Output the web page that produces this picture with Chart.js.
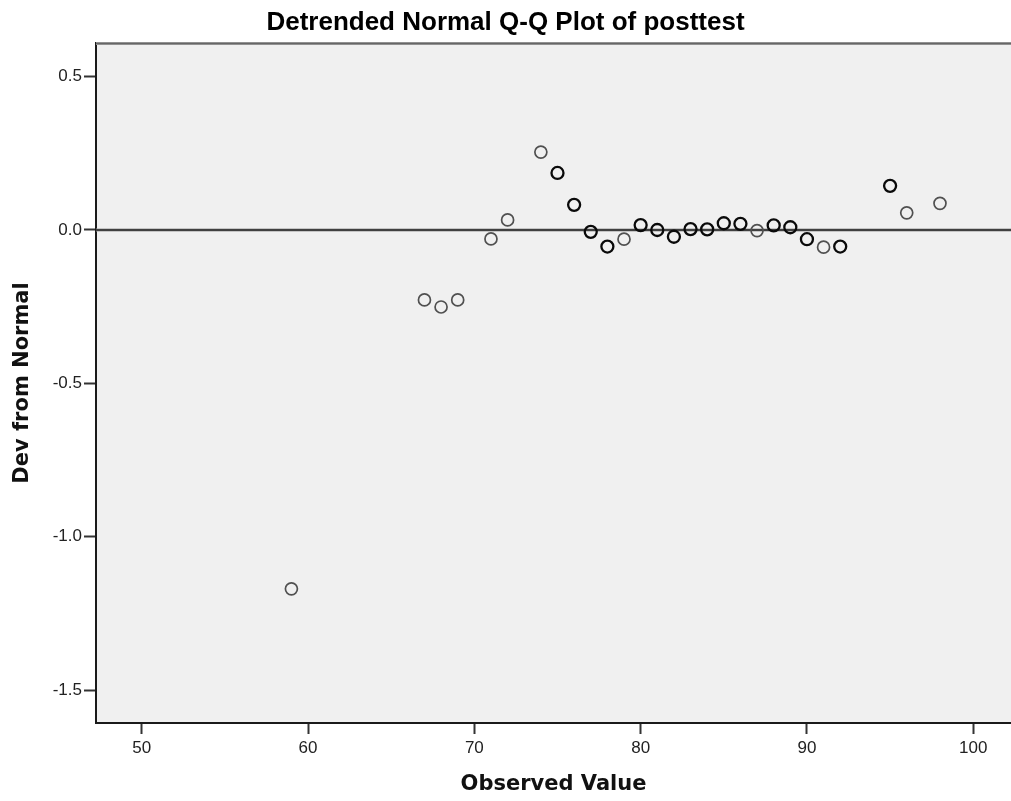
<!DOCTYPE html>
<html>
<head>
<meta charset="utf-8">
<script src="https://cdn.jsdelivr.net/npm/chart.js@4.4.1/dist/chart.umd.min.js"></script>
<style>
html,body{margin:0;padding:0;background:#fff;overflow:hidden}
canvas{display:block}
</style>
</head>
<body>
<canvas id="c" width="1011" height="801" style="width:1011px;height:801px"></canvas>
<script>
// ---- data ----
const observedValues = [59, 67, 68, 69, 71, 72, 74, 75, 76, 77, 78, 79, 80, 81, 82, 83, 84, 85, 86, 87, 88, 89, 90, 91, 92, 95, 96, 98];
const devFromNormal  = [-1.170, -0.228, -0.251, -0.228, -0.029, 0.033, 0.254, 0.186, 0.082, -0.006, -0.054, -0.030, 0.016, 0.000, -0.022, 0.003, 0.002, 0.022, 0.020, -0.002, 0.015, 0.009, -0.030, -0.056, -0.054, 0.144, 0.056, 0.087];
const frequencies    = [1, 1, 1, 1, 1, 1, 1, 2, 2, 2, 2, 1, 2, 2, 2, 2, 2, 2, 2, 1, 2, 2, 2, 1, 2, 2, 1, 1];
const xTickValues = [50, 60, 70, 80, 90, 100];
const yTickValues = [-1.5, -1.0, -0.5, 0.0, 0.5];
const referenceLevel = 0;

const points = observedValues.map((x, i) => ({ x: x, y: devFromNormal[i] }));
const pointColors = frequencies.map(f => f > 1 ? '#0a0a0a' : '#505050');
const pointWidths = frequencies.map(f => f > 1 ? 2.3 : 1.7);

const frame = {
  id: 'frame',
  afterLayout(chart) {
    // let the plot area run to the right edge of the canvas, as in the reference
    const x = chart.scales.x, a = chart.chartArea, W = chart.width;
    x.right = W; x.width = W - x.left;
    x._labelItems = null; x._gridLineItems = null;
    x.configure();
    a.right = W; a.width = W - a.left;
  },
  beforeDraw(chart) {
    const { ctx, chartArea: a } = chart;
    ctx.save();
    ctx.fillStyle = '#fff';
    ctx.fillRect(0, 0, chart.width, chart.height);
    ctx.fillStyle = '#f0f0f0';
    ctx.fillRect(a.left, a.top, a.right - a.left, a.bottom - a.top);
    ctx.restore();
  },
  beforeDatasetsDraw(chart) {
    const { ctx, chartArea: a, scales } = chart;
    const y0 = scales.y.getPixelForValue(referenceLevel);
    ctx.save();
    ctx.strokeStyle = '#9a9a9a';
    ctx.lineWidth = 3;
    ctx.beginPath(); ctx.moveTo(a.left, y0); ctx.lineTo(a.right, y0); ctx.stroke();
    ctx.strokeStyle = '#404040';
    ctx.lineWidth = 1.8;
    ctx.beginPath(); ctx.moveTo(a.left, y0); ctx.lineTo(a.right, y0); ctx.stroke();
    // top frame line
    ctx.strokeStyle = '#a0a0a0';
    ctx.lineWidth = 3;
    ctx.beginPath(); ctx.moveTo(a.left, a.top + 0.5); ctx.lineTo(a.right, a.top + 0.5); ctx.stroke();
    ctx.strokeStyle = '#666';
    ctx.lineWidth = 1.5;
    ctx.beginPath(); ctx.moveTo(a.left, a.top + 0.5); ctx.lineTo(a.right, a.top + 0.5); ctx.stroke();
    ctx.restore();
  }
};

new Chart(document.getElementById('c'), {
  type: 'scatter',
  data: {
    datasets: [{
      data: points,
      showLine: false,
      pointStyle: 'circle',
      pointRadius: 6,
      pointHoverRadius: 6,
      pointBackgroundColor: 'rgba(0,0,0,0)',
      pointBorderColor: pointColors,
      pointBorderWidth: pointWidths
    }]
  },
  options: {
    responsive: false,
    animation: false,
    events: [],
    layout: { padding: 0 },
    plugins: {
      legend: { display: false },
      tooltip: { enabled: false },
      title: {
        display: true,
        text: 'Detrended Normal Q-Q Plot of posttest',
        color: '#000',
        font: { family: "'Liberation Sans', Arial, sans-serif", size: 26, weight: 'bold' },
        padding: { top: 7, bottom: 4.8 }
      }
    },
    scales: {
      x: {
        type: 'linear',
        min: 47.25,
        max: 102.27,
        afterFit(s) { s.height = 78; s.paddingLeft = 0; s.paddingRight = 0; },
        afterBuildTicks(s) { s.ticks = xTickValues.map(v => ({ value: v })); },
        ticks: {
          autoSkip: false, maxRotation: 0, padding: 4, color: '#222',
          font: { family: "'Liberation Sans', Arial, sans-serif", size: 17 },
          callback: v => String(v)
        },
        grid: { drawOnChartArea: false, drawTicks: true, tickLength: 11, tickWidth: 2, tickColor: '#333' },
        border: { display: true, color: '#1a1a1a', width: 2 },
        title: {
          display: true, text: 'Observed Value', color: '#111',
          font: { family: "'DejaVu Sans', Verdana, sans-serif", size: 21, weight: 'bold' },
          padding: { top: 0, bottom: 4 }
        }
      },
      y: {
        type: 'linear',
        min: -1.6074,
        max: 0.6097,
        afterFit(s) { s.width = 96; s.paddingTop = 0; s.paddingBottom = 0; },
        afterBuildTicks(s) { s.ticks = yTickValues.map(v => ({ value: v })); },
        ticks: {
          autoSkip: false, padding: 2, color: '#222',
          font: { family: "'Liberation Sans', Arial, sans-serif", size: 17 },
          callback: v => Number(v).toFixed(1)
        },
        grid: { drawOnChartArea: false, drawTicks: true, tickLength: 12, tickWidth: 2, tickColor: '#333' },
        border: { display: true, color: '#1a1a1a', width: 2 },
        title: {
          display: true, text: 'Dev from Normal', color: '#111',
          font: { family: "'DejaVu Sans', Verdana, sans-serif", size: 21, weight: 'bold' },
          padding: { top: 10, bottom: 0 }
        }
      }
    }
  },
  plugins: [frame]
});
</script>
</body>
</html>
